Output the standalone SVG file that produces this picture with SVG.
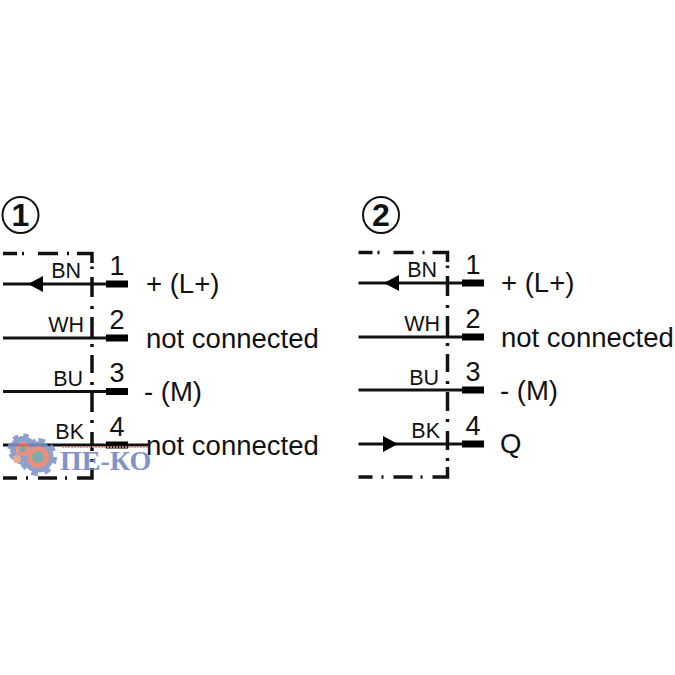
<svg xmlns="http://www.w3.org/2000/svg" width="675" height="675" viewBox="0 0 675 675">
<style>
text{font-family:"Liberation Sans",sans-serif;fill:#111}
.t{font-size:27.500px}
.c{font-size:21.500px;text-anchor:end}
.n{font-size:27px;text-anchor:middle}
.w{stroke:#111;stroke-width:3;fill:none}
.p{stroke:#000;stroke-width:7;fill:none}
.b{stroke:#111;stroke-width:3.500;fill:none}
.o{font-size:32px;text-anchor:middle;font-weight:bold}
.g{fill:none;stroke:#7f93c8}
</style>
<defs>
<g id="frame">
<path class="b" d="M3 253.500H17M22 253.500H24M38 253.500H58M67 253.500H69M77 253.500H92V263M92 266.500V269M92 277V297M92 306V309M92 317V337M92 344V347M92 355V373M92 382V385M92 393V412M92 420V423M92 432V451M92 459V462M92 468V478H77M67 478H65M57 478H38M28 478H26M17 478H3"/>
</g>
</defs>
<g id="connectors">
<use href="#frame"/>
<use href="#frame" x="355.500" y="-1"/>
<path class="w" d="M3 284H106M3 338H106M3 391.500H106M3 445H148"/>
<path class="w" d="M358.500 283H462M358.500 337H462M358.500 390H462M358.500 444H462"/>
<path d="M28 284L43 276V292Z" fill="#000"/>
<path d="M384 283L399 275V291Z" fill="#000"/>
<path d="M398 444L383 436V452Z" fill="#000"/>
<path class="p" d="M106 284H128M106 338H128M106 391.500H128M106 445H128M462 283H484M462 337H484M462 390H484M462 444H484"/>
</g>
<g id="title-1"><circle cx="20.500" cy="215" r="18" fill="none" stroke="#111" stroke-width="2"/><text class="o" x="20.500" y="226">1</text></g>
<g id="title-2"><circle cx="381" cy="215" r="18" fill="none" stroke="#111" stroke-width="2"/><text class="o" x="381" y="226">2</text></g>
<g id="pin-1-1"><text class="c" x="81" y="278">BN</text><text class="n" x="117" y="275">1</text><text class="t" x="146" y="293">+ (L+)</text></g>
<g id="pin-1-2"><text class="c" x="84" y="332">WH</text><text class="n" x="117" y="329">2</text><text class="t" x="146" y="348">not connected</text></g>
<g id="pin-1-3"><text class="c" x="83" y="386">BU</text><text class="n" x="117" y="382">3</text><text class="t" x="144" y="401">- (M)</text></g>
<g id="pin-1-4"><text class="c" x="84" y="439">BK</text><text class="n" x="117" y="436">4</text><text class="t" x="146" y="455">not connected</text></g>
<g id="pin-2-1"><text class="c" x="437" y="277">BN</text><text class="n" x="473" y="274">1</text><text class="t" x="501" y="292">+ (L+)</text></g>
<g id="pin-2-2"><text class="c" x="440" y="331">WH</text><text class="n" x="473" y="328">2</text><text class="t" x="501" y="347">not connected</text></g>
<g id="pin-2-3"><text class="c" x="439" y="385">BU</text><text class="n" x="473" y="381">3</text><text class="t" x="500" y="400">- (M)</text></g>
<g id="pin-2-4"><text class="c" x="440" y="438">BK</text><text class="n" x="473" y="435">4</text><text class="t" x="500" y="453">Q</text></g>
<g id="watermark" opacity=".88">
<circle class="g" cx="23" cy="449" r="10" stroke-width="6"/>
<circle class="g" cx="23" cy="449" r="13" stroke-width="5" stroke-dasharray="5.100 5.100"/>
<circle class="g" cx="38" cy="457" r="12" stroke-width="7"/>
<circle class="g" cx="38" cy="457" r="16" stroke-width="6" stroke-dasharray="6.300 6.250"/>
<circle cx="23" cy="449" r="7" fill="#e8806a"/>
<circle cx="23" cy="449" r="3" fill="#6f9a9a"/>
<circle cx="38" cy="457" r="11" fill="#e8806a"/>
<circle cx="38" cy="457" r="6" fill="#6f9fa0"/>
<circle cx="17" cy="459" r="4" fill="#e8a080"/>
<path d="M62 447H148" stroke="#d88a80" stroke-width="2" stroke-dasharray="2 1" fill="none"/>
<text x="60" y="470" font-size="28" style="font-family:'Liberation Serif',serif;fill:#6f86c4;font-weight:bold">ПЕ-КО</text>
</g>
</svg>
